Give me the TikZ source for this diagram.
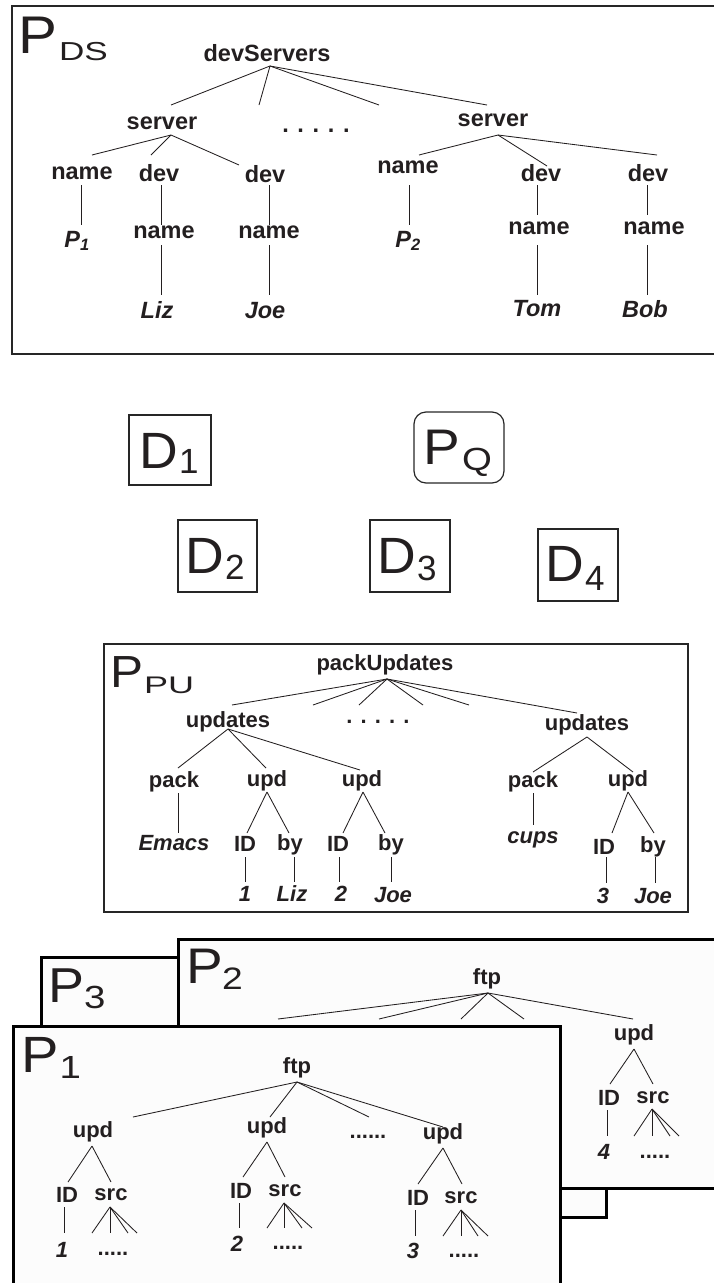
\documentclass[tikz,border=0pt]{standalone}
\usepackage{fontspec}
\setmainfont{Liberation Sans}
\usepackage{graphicx}
\usetikzlibrary{calc}
\definecolor{txt}{HTML}{231F20}
\definecolor{pfill}{HTML}{FCFCFC}
\newcommand\fs[1]{\fontsize{#1}{#1}\selectfont}
\newcommand\sx[2]{\scalebox{#1}[1]{#2}}
\begin{document}
\begin{tikzpicture}[x=1pt,y=-1pt,
  every node/.style={inner sep=0pt,outer sep=0pt,text=txt},
  ta/.style={font=\fs{23.5}\bfseries},
  tai/.style={font=\fs{23.5}\bfseries\itshape},
  tb/.style={font=\fs{22}\bfseries},
  tbi/.style={font=\fs{22}\bfseries\itshape},
  ln/.style={line width=0.85pt,draw=txt},
  lab/.style={anchor=base west,font=\fs{#1}},
  topframe/.style={draw=black!85,line width=1.6pt},
  dframe/.style={draw=black!85,line width=1.2pt},
  puframe/.style={draw=black!85,line width=1.4pt},
  pframe/.style={draw=black,line width=3pt,fill=pfill}]
\useasboundingbox (0,0) rectangle (714,1283);
\clip (0,0) rectangle (714,1283);

% ================= P_DS =================
\draw[topframe] (12,6) rectangle (760,354);
\node[lab=53] (pdsP) at (18,53) {\sx{1.1}{P}};
\node[lab=26] (pdsS) at (59,60) {\sx{1.35}{DS}};

\node[ta] (ds) at (267,53) {devServers};
\node[ta] (sv1) at (162,123) {server};
\node[ta] (sv2) at (493,120) {server};
\node[ta] (dots1) at (316,131) {. . . . .};
\node[ta] (n1) at (82,173) {name};
\node[ta] (d1) at (159,173) {dev};
\node[ta] (d2) at (265,174) {dev};
\node[tai] (p1) at (77,241) {P\textsubscript{1}};
\node[ta] (n2) at (164,232) {name};
\node[tai] (liz) at (157,310) {Liz};
\node[ta] (n3) at (269,232) {name};
\node[tai] (joe) at (265,311) {Joe};
\node[ta] (n4) at (408,167) {name};
\node[ta] (d3) at (541,173) {dev};
\node[ta] (d4) at (648,173) {dev};
\node[tai] (p2) at (408,241) {P\textsubscript{2}};
\node[ta] (n5) at (539,228) {name};
\node[tai] (tom) at (537,309) {Tom};
\node[ta] (n6) at (654,228) {name};
\node[tai] (bob) at (645,309) {Bob};
\coordinate (dsS1) at (259,105);
\coordinate (dsS2) at (379,105);

\draw[ln] ($(ds.center)+(3,13)$) -- ($(sv1.center)+(9,-18)$);
\draw[ln] ($(ds.center)+(3,13)$) -- (dsS1);
\draw[ln] ($(ds.center)+(3,13)$) -- (dsS2);
\draw[ln] ($(ds.center)+(3,13)$) -- ($(sv2.center)+(-6,-15)$);
\draw[ln] ($(sv1.center)+(9,12)$) -- ($(n1.center)+(10,-18)$);
\draw[ln] ($(sv1.center)+(9,12)$) -- ($(d1.center)+(-8,-18)$);
\draw[ln] ($(sv1.center)+(9,12)$) -- ($(d2.center)+(-26,-9)$);
\draw[ln] ($(n1.center)+(-1,12)$) -- ($(p1.center)+(4,-16)$);
\draw[ln] ($(d1.center)+(2,12)$) -- ($(n2.center)+(-3,-7)$);
\draw[ln] ($(n2.center)+(-3,13)$) -- ($(liz.center)+(4,-15)$);
\draw[ln] ($(d2.center)+(4,11)$) -- ($(n3.center)+(0,-7)$);
\draw[ln] ($(n3.center)+(0,13)$) -- ($(joe.center)+(4,-16)$);
\draw[ln] ($(sv2.center)+(5,15)$) -- ($(n4.center)+(11,-12)$);
\draw[ln] ($(sv2.center)+(5,15)$) -- ($(d3.center)+(6,-7)$);
\draw[ln] ($(sv2.center)+(5,15)$) -- ($(d4.center)+(9,-18)$);
\draw[ln] ($(n4.center)+(1,18)$) -- ($(p2.center)+(1,-16)$);
\draw[ln] ($(d3.center)+(-4,12)$) -- ($(n5.center)+(-2,-13)$);
\draw[ln] ($(n5.center)+(-2,17)$) -- ($(tom.center)+(0,-14)$);
\draw[ln] ($(d4.center)+(-1,12)$) -- ($(n6.center)+(-7,-13)$);
\draw[ln] ($(n6.center)+(-7,17)$) -- ($(bob.center)+(2,-14)$);

% ================= D boxes and P_Q =================
\draw[dframe] (129,415) rectangle (211,485);
\node[lab=51] (d1D) at (139,468) {\sx{1.05}{D}};
\node[lab=35] (d1s) at (179,473) {1};
\draw[dframe,rounded corners=12pt] (414,412) rectangle (504,483);
\node[lab=50] (pqP) at (423,464) {\sx{1.1}{P}};
\node[lab=32] (pqQ) at (462,470) {\sx{1.2}{Q}};
\draw[dframe] (178,520) rectangle (257,592);
\node[lab=51] (d2D) at (185,573) {\sx{1.05}{D}};
\node[lab=35] (d2s) at (225,579) {2};
\draw[dframe] (370,520) rectangle (450,592);
\node[lab=51] (d3D) at (377,573) {\sx{1.05}{D}};
\node[lab=35] (d3s) at (417,580) {3};
\draw[dframe] (538,529) rectangle (618,601);
\node[lab=51] (d4D) at (545,581) {\sx{1.05}{D}};
\node[lab=35] (d4s) at (585,590) {4};

% ================= P_PU =================
\draw[puframe] (104,644) rectangle (688,912);
\node[lab=45] (ppuP) at (110,687) {\sx{1.1}{P}};
\node[lab=24] (ppuS) at (144,693) {\sx{1.5}{PU}};

\node[tb] (pu) at (385,665) {packUpdates};
\node[tb] (up1) at (228,722) {updates};
\node[tb] (up2) at (587,725) {updates};
\node[tb] (dots2) at (378,722) {. . . . .};
\node[tb] (pk1) at (174,782) {pack};
\node[tb] (ud1) at (267,781) {upd};
\node[tb] (ud2) at (362,781) {upd};
\node[tbi] (emacs) at (174,843) {Emacs};
\node[tb] (id1) at (245,844) {ID};
\node[tb] (by1) at (290,845) {by};
\node[tb] (id2) at (338,844) {ID};
\node[tb] (by2) at (391,845) {by};
\node[tbi] (one) at (245,894) {1};
\node[tbi] (liz2) at (292,894) {Liz};
\node[tbi] (two) at (341,894) {2};
\node[tbi] (joe2) at (393,895) {Joe};
\node[tb] (pk2) at (533,782) {pack};
\node[tb] (ud3) at (628,781) {upd};
\node[tbi] (cups) at (533,840) {cups};
\node[tb] (id3) at (604,847) {ID};
\node[tb] (by3) at (653,847) {by};
\node[tbi] (three) at (603,896) {3};
\node[tbi] (joe3) at (653,896) {Joe};
\coordinate (puS1) at (313,705);
\coordinate (puS2) at (359,705);
\coordinate (puS3) at (423,705);
\coordinate (puS4) at (469,705);

\draw[ln] ($(pu.center)+(2,14)$) -- ($(up1.center)+(4,-17)$);
\draw[ln] ($(pu.center)+(2,14)$) -- (puS1);
\draw[ln] ($(pu.center)+(2,14)$) -- (puS2);
\draw[ln] ($(pu.center)+(2,14)$) -- (puS3);
\draw[ln] ($(pu.center)+(2,14)$) -- (puS4);
\draw[ln] ($(pu.center)+(2,14)$) -- ($(up2.center)+(-10,-12)$);
\draw[ln] ($(up1.center)+(0,7)$) -- ($(pk1.center)+(4,-14)$);
\draw[ln] ($(up1.center)+(0,7)$) -- ($(ud1.center)+(-1,-13)$);
\draw[ln] ($(up1.center)+(0,7)$) -- ($(ud2.center)+(-2,-11)$);
\draw[ln] ($(pk1.center)+(4,11)$) -- ($(emacs.center)+(4,-10)$);
\draw[ln] ($(ud1.center)+(0,11)$) -- ($(id1.center)+(2,-11)$);
\draw[ln] ($(ud1.center)+(0,11)$) -- ($(by1.center)+(-1,-12)$);
\draw[ln] ($(ud2.center)+(1,11)$) -- ($(id2.center)+(5,-11)$);
\draw[ln] ($(ud2.center)+(1,11)$) -- ($(by2.center)+(-6,-12)$);
\draw[ln] ($(id1.center)+(0,13)$) -- ($(one.center)+(0,-12)$);
\draw[ln] ($(by1.center)+(4,12)$) -- ($(liz2.center)+(2,-12)$);
\draw[ln] ($(id2.center)+(1,13)$) -- ($(two.center)+(-2,-12)$);
\draw[ln] ($(by2.center)+(0,12)$) -- ($(joe2.center)+(-2,-13)$);
\draw[ln] ($(up2.center)+(0,12)$) -- ($(pk2.center)+(0,-10)$);
\draw[ln] ($(up2.center)+(0,12)$) -- ($(ud3.center)+(5,-9)$);
\draw[ln] ($(pk2.center)+(0,11)$) -- ($(cups.center)+(0,-15)$);
\draw[ln] ($(ud3.center)+(0,11)$) -- ($(id3.center)+(8,-14)$);
\draw[ln] ($(ud3.center)+(0,11)$) -- ($(by3.center)+(1,-14)$);
\draw[ln] ($(id3.center)+(2,10)$) -- ($(three.center)+(3,-13)$);
\draw[ln] ($(by3.center)+(2,10)$) -- ($(joe3.center)+(2,-13)$);

% ================= P3 (back) =================
\draw[pframe] (41,957) rectangle (606,1217);
\node[lab=49] (p3P) at (48,1002) {\sx{1.1}{P}};
\node[lab=32] (p3s) at (84,1008) {\sx{1.2}{3}};

% ================= P2 =================
\draw[pframe] (178,939) rectangle (760,1188);
\node[lab=50] (p2P) at (186,983) {\sx{1.1}{P}};
\node[lab=31] (p2s) at (222,989) {\sx{1.2}{2}};

\node[tb] (ftp2) at (487,979) {ftp};
\node[tb] (udd) at (634,1035) {upd};
\node[tb] (idd) at (609,1098) {ID};
\node[tb] (srcd) at (653,1098) {src};
\node[tbi] (nd) at (604,1152) {4};
\node[tb] (ddd) at (655,1157) {.....};
\coordinate (fS1) at (278,1019);
\coordinate (fS2) at (379,1019);
\coordinate (fS3) at (461,1019);
\coordinate (fS4) at (524,1019);
\draw[ln] ($(ftp2.center)+(1,14)$) -- (fS1);
\draw[ln] ($(ftp2.center)+(1,14)$) -- (fS2);
\draw[ln] ($(ftp2.center)+(1,14)$) -- (fS3);
\draw[ln] ($(ftp2.center)+(1,14)$) -- (fS4);
\draw[ln] ($(ftp2.center)+(1,14)$) -- ($(udd.center)+(-1,-16)$);
\draw[ln] ($(udd.center)+(0,14)$) -- ($(idd.center)+(1,-14)$);
\draw[ln] ($(udd.center)+(0,14)$) -- ($(srcd.center)+(0,-14)$);
\draw[ln] ($(idd.center)+(-2,12)$) -- ($(nd.center)+(3,-16)$);
\coordinate (sd1) at (634,1136);
\coordinate (sd2) at (652,1136);
\coordinate (sd3) at (670,1136);
\coordinate (sd4) at (679,1136);
\foreach \c in {sd1,sd2,sd3,sd4}
  \draw[ln] ($(srcd.center)+(-1,11)$) -- (\c);

% ================= P1 (front) =================
\draw[pframe] (13,1026) rectangle (560,1320);
\node[lab=51] (p1P) at (21,1072) {\sx{1.1}{P}};
\node[lab=32] (p1s) at (59.5,1078) {\sx{1.2}{1}};

\node[tb] (ftp1) at (297,1068) {ftp};
\node[tb] (ua) at (93,1132) {upd};
\node[tb] (ub) at (267,1128) {upd};
\node[tb] (uc) at (443,1134) {upd};
\node[tb] (dots3) at (368,1137) {......};
\node[tb] (ida) at (67,1195) {ID};
\node[tb] (srca) at (111,1195) {src};
\node[tbi] (na) at (62,1250) {1};
\node[tb] (dda) at (113,1254) {.....};
\node[tb] (idb) at (241,1191) {ID};
\node[tb] (srcb) at (285,1191) {src};
\node[tbi] (nb) at (237,1244) {2};
\node[tb] (ddb) at (288,1248) {.....};
\node[tb] (idc) at (418,1198) {ID};
\node[tb] (srcc) at (461,1198) {src};
\node[tbi] (nc) at (413,1251) {3};
\node[tb] (ddc) at (464,1256) {.....};
\coordinate (fS5) at (369,1117);

\draw[ln] ($(ftp1.center)+(0,14)$) -- ($(ua.center)+(40,-15)$);
\draw[ln] ($(ftp1.center)+(0,14)$) -- ($(ub.center)+(3,-11)$);
\draw[ln] ($(ftp1.center)+(0,14)$) -- (fS5);
\draw[ln] ($(ftp1.center)+(0,14)$) -- ($(uc.center)+(0,-7)$);
\draw[ln] ($(ua.center)+(-1,14)$) -- ($(ida.center)+(1,-13)$);
\draw[ln] ($(ua.center)+(-1,14)$) -- ($(srca.center)+(0,-13)$);
\draw[ln] ($(ida.center)+(-3,12)$) -- ($(na.center)+(2,-17)$);
\draw[ln] ($(ub.center)+(0,14)$) -- ($(idb.center)+(2,-14)$);
\draw[ln] ($(ub.center)+(0,14)$) -- ($(srcb.center)+(0,-14)$);
\draw[ln] ($(idb.center)+(-2,12)$) -- ($(nb.center)+(2,-16)$);
\draw[ln] ($(uc.center)+(0,14)$) -- ($(idc.center)+(0,-14)$);
\draw[ln] ($(uc.center)+(0,14)$) -- ($(srcc.center)+(1,-14)$);
\draw[ln] ($(idc.center)+(-3,12)$) -- ($(nc.center)+(2,-15)$);
\coordinate (sa1) at (92,1233);
\coordinate (sa2) at (110,1233);
\coordinate (sa3) at (128,1233);
\coordinate (sa4) at (137,1233);
\foreach \c in {sa1,sa2,sa3,sa4}
  \draw[ln] ($(srca.center)+(-1,12)$) -- (\c);
\coordinate (sb1) at (267,1228);
\coordinate (sb2) at (284,1228);
\coordinate (sb3) at (302,1228);
\coordinate (sb4) at (312,1228);
\foreach \c in {sb1,sb2,sb3,sb4}
  \draw[ln] ($(srcb.center)+(-1,12)$) -- (\c);
\coordinate (sc1) at (443,1236);
\coordinate (sc2) at (461,1236);
\coordinate (sc3) at (478,1236);
\coordinate (sc4) at (488,1236);
\foreach \c in {sc1,sc2,sc3,sc4}
  \draw[ln] ($(srcc.center)+(0,12)$) -- (\c);
\end{tikzpicture}
\end{document}
